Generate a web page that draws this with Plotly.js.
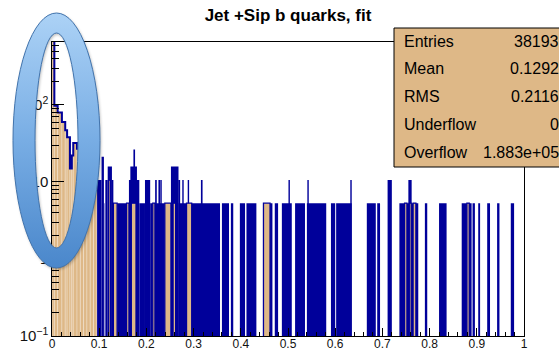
<!DOCTYPE html>
<html><head><meta charset="utf-8">
<script src="https://cdn.plot.ly/plotly-3.0.1.min.js"></script>
<style>html,body{margin:0;padding:0;background:#fff;}#chart{width:559px;height:351px;}</style>
</head><body><div id="chart"></div>
<script>
// ---- data ----
const peakLeft   = [0,0.005,0.012,0.021,0.028,0.032,0.038,0.042,0.045,0.053,0.060,0.067,0.074,0.081,0.088];
const peakRight  = [0.005,0.012,0.021,0.028,0.032,0.038,0.042,0.045,0.053,0.060,0.067,0.074,0.081,0.088,0.095];
const peakHeight = [900,98,80,60,47,38,15,22,32,27,23,19,16,13,10.6];

const blueLeft   = [0.095,0.105,0.110,0.113,0.118,0.127,0.138,0.163,0.166,0.1725,0.185,0.197,0.208,0.218,0.2185,0.2255,0.2295,0.252,0.268,0.2675,0.276,0.2875,0.296,0.3155,0.360,0.379,0.398,0.412,0.462,0.472,0.487,0.501,0.515,0.540,0.541,0.591,0.602,0.632,0.667,0.689,0.711,0.736,0.755,0.790,0.820,0.868,0.891,0.903,0.922,0.943,0.972];
const blueRight  = [0.105,0.110,0.111,0.118,0.127,0.130,0.158,0.185,0.180,0.176,0.197,0.208,0.2135,0.239,0.222,0.229,0.2325,0.268,0.285,0.2715,0.279,0.2905,0.356,0.319,0.375,0.384,0.409,0.433,0.467,0.479,0.508,0.504,0.536,0.581,0.544,0.600,0.635,0.635,0.686,0.695,0.720,0.776,0.762,0.795,0.836,0.889,0.896,0.907,0.928,0.948,0.979];
const blueHeight = [10.6,21.2,5.3,10.6,15.9,10.6,5.3,10.6,15.9,26.5,5.3,10.6,5.3,5.3,10.6,10.6,10.6,15.9,5.3,10.6,10.6,10.6,5.3,10.6,5.3,5.3,5.3,5.3,5.3,5.3,5.3,10.6,5.3,5.3,10.6,5.3,5.3,10.6,5.3,5.3,10.6,5.3,10.6,5.3,5.3,5.3,5.3,5.3,5.3,5.3,5.3];

const stripLeft   = [0.120,0.130,0.158,0.168,0.2135,0.239,0.2565,0.285,0.448,0.747,0.757,0.765,0.879];
const stripRight  = [0.124,0.138,0.163,0.178,0.218,0.252,0.262,0.296,0.462,0.752,0.761,0.771,0.884];
const stripHeight = [10.6,5.3,5.3,5.3,5.3,5.3,5.3,5.3,5.3,5.3,5.3,5.3,5.3];

const statLabels = ['Entries','Mean','RMS','Underflow','Overflow'];
const statValues = ['38193','0.1292','0.2116','0','1.883e+05'];
const chartTitle = 'Jet +Sip b quarks, fit';

// ---- styling ----
const BLUE = '#00009a', TAN = '#deb887';
const W = 559, H = 351, L = 52, R = 524, T = 42, B = 336;
const px2x = p => (p - L) / (R - L);
const py2y = p => (B - p) / (B - T);

const mid = (a, b) => a.map((v, i) => (v + b[i]) / 2);
const wid = (a, b) => a.map((v, i) => b[i] - v);

const traces = [
  {type:'bar', x:mid(blueLeft,blueRight), width:wid(blueLeft,blueRight), y:blueHeight,
   marker:{color:BLUE, line:{width:0}}},
  {type:'bar', x:mid(peakLeft,peakRight), width:wid(peakLeft,peakRight), y:peakHeight,
   marker:{color:TAN, line:{width:0.6, color:'rgba(255,255,255,0.45)'}}},
  {type:'bar', x:mid(stripLeft,stripRight), width:wid(stripLeft,stripRight), y:stripHeight,
   marker:{color:TAN, line:{width:1.3, color:BLUE}}},
  {type:'scatter', mode:'lines', x:peakLeft.concat([peakRight[peakRight.length-1]]),
   y:peakHeight.concat([peakHeight[peakHeight.length-1]]),
   line:{shape:'hv', color:BLUE, width:2}}
];

// ellipse highlight (decoration) as an inline SVG image
const ox = 9, oy = 9, iw = 98, ih = 266;
const cx = 56.5 - ox, cy = 140.5 - oy;
const ell = (rx, ry) => `M${cx-rx},${cy} a${rx},${ry} 0 1,0 ${2*rx},0 a${rx},${ry} 0 1,0 ${-2*rx},0 Z`;
const ringPath = ell(43.5,127.5) + ' ' + ell(21.5,107.5);
const svg = `<svg xmlns='http://www.w3.org/2000/svg' width='${iw}' height='${ih}' viewBox='0 0 ${iw} ${ih}'>
<defs><linearGradient id='g' x1='0' y1='0' x2='0' y2='1'><stop offset='0' stop-color='#acd2f6'/><stop offset='0.5' stop-color='#78ade4'/><stop offset='1' stop-color='#4a87cb'/></linearGradient>
<filter id='s' x='-30%' y='-10%' width='160%' height='120%'><feGaussianBlur stdDeviation='1.6'/></filter></defs>
<path d='${ringPath}' fill-rule='evenodd' fill='#000' opacity='0.28' transform='translate(1,1.5)' filter='url(#s)'/>
<path d='${ringPath}' fill-rule='evenodd' fill='url(#g)' stroke='#4274ad' stroke-width='1'/>
</svg>`;
const svgUri = 'data:image/svg+xml;charset=utf-8,' + encodeURIComponent(svg);

const font = {family:'Liberation Sans, Arial, sans-serif', color:'#000'};
const annotations = [];
statLabels.forEach((lab, i) => {
  const ry = 41 + i * 27.8;
  annotations.push({text:lab, xref:'paper', yref:'paper', x:px2x(402), y:py2y(ry), xanchor:'left', yanchor:'middle',
    showarrow:false, font:Object.assign({size:16}, font)});
  annotations.push({text:statValues[i], xref:'paper', yref:'paper', x:px2x(561), y:py2y(ry), xanchor:'right', yanchor:'middle',
    showarrow:false, font:Object.assign({size:16}, font)});
});

const layout = {
  width:W, height:H, autosize:false,
  margin:{l:L, r:W-R, t:T, b:H-B, pad:0},
  paper_bgcolor:'#fff', plot_bgcolor:'#fff',
  showlegend:false, hovermode:false, barmode:'overlay',
  title:{text:'<b>'+chartTitle+'</b>', font:Object.assign({size:17}, font), x:0.5, xref:'paper', xanchor:'center',
    y:1-15/H, yref:'container', yanchor:'middle'},
  xaxis:{range:[0,1], tickmode:'linear', tick0:0, dtick:0.1, ticks:'inside', ticklen:8, tickwidth:1, tickcolor:'#000',
    minor:{ticks:'inside', ticklen:4, dtick:0.02, tickcolor:'#000', tickwidth:1, showgrid:false},
    showgrid:false, zeroline:false, showline:true, mirror:true, linecolor:'#000', linewidth:1.3,
    ticklabelstandoff:-4,
    tickfont:Object.assign({size:12}, font, {color:'#111'})},
  yaxis:{type:'log', range:[-1, 2.818], tickmode:'linear', tick0:0, dtick:1, exponentformat:'power',
    ticks:'inside', ticklen:12, tickwidth:1, tickcolor:'#000',
    minor:{ticks:'inside', ticklen:7, dtick:'D1', tickcolor:'#000', tickwidth:1, showgrid:false},
    showgrid:false, zeroline:false, showline:true, mirror:true, linecolor:'#000', linewidth:1.3,
    tickfont:Object.assign({size:12}, font, {color:'#111'})},
  shapes:[{type:'rect', xref:'paper', yref:'paper', x0:px2x(394), x1:px2x(600), y0:py2y(167), y1:py2y(28),
    fillcolor:TAN, line:{color:'#000', width:1}, layer:'above'}],
  images:[{source:svgUri, xref:'paper', yref:'paper', x:px2x(ox), y:py2y(oy), sizex:iw/(R-L), sizey:ih/(B-T),
    sizing:'stretch', xanchor:'left', yanchor:'top', layer:'above'}],
  annotations:annotations
};

Plotly.newPlot('chart', traces, layout, {staticPlot:true, displayModeBar:false});
</script></body></html>
